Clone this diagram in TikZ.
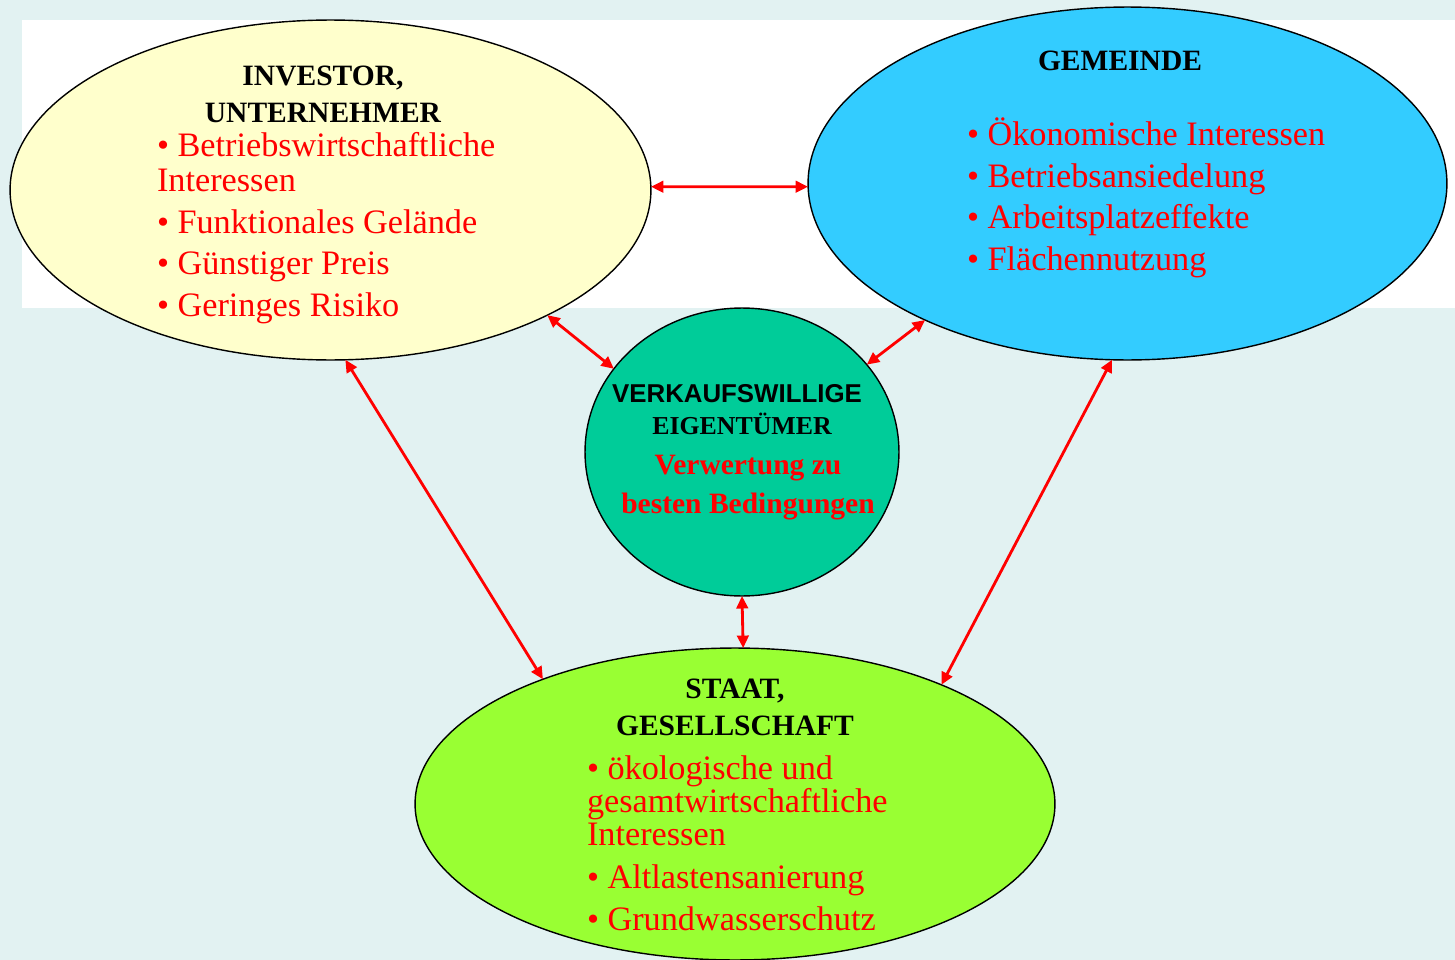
\documentclass[tikz,border=0pt]{standalone}
\usepackage{fontspec}
\setmainfont{Liberation Serif}
\setsansfont{Liberation Sans}
\usetikzlibrary{shapes.geometric,arrows.meta}
\definecolor{bgcyan}{HTML}{E2F2F2}
\definecolor{invyellow}{HTML}{FFFFCC}
\definecolor{gemblue}{HTML}{33CCFF}
\definecolor{eiggreen}{HTML}{00CC99}
\definecolor{sttlime}{HTML}{99FF33}
\tikzset{
	every node/.style={outer sep=0pt,inner sep=0pt},
	party/.style={ellipse,draw,line width=0.8pt},
	heading/.style={font=\fontsize{16.8}{20.5}\selectfont\bfseries,align=center,anchor=base},
	items/.style={text=red,font=\fontsize{19.5}{23.6}\selectfont,align=left,anchor=base west},
	link/.style={draw=red,line width=1.6pt,{Triangle[length=0.25cm,width=0.23cm]}-{Triangle[length=0.25cm,width=0.23cm]}}
	}
\begin{document}
\begin{tikzpicture}[x=0.02cm,y=-0.02cm]
	\useasboundingbox (0,0) rectangle (1455,960);
	\fill[bgcyan] (0,0) rectangle (1455,960);
	\fill[white] (22,20) rectangle (1455,308);
	% the four parties
	\node[party,fill=invyellow,minimum width=12.82cm,minimum height=6.8cm] (inv) at (330.5,190) {};
	\node[party,fill=gemblue,minimum width=12.78cm,minimum height=7.06cm] (gem) at (1127.5,183.5) {};
	\node[party,fill=eiggreen,minimum width=6.28cm,minimum height=5.76cm] (eig) at (742,452) {};
	\node[party,fill=sttlime,minimum width=12.8cm,minimum height=6.24cm] (stt) at (735,804) {};
	% texts (base = last line)
	\node[heading] (inv-head) at (323,122) {INVESTOR,\\UNTERNEHMER};
	\node[items] (inv-items) at (157,316) {• Betriebswirtschaftliche\\[-0.13cm]Interessen\\• Funktionales Gelände\\• Günstiger Preis\\• Geringes Risiko};
	\node[heading] (gem-head) at (1120,71) {GEMEINDE};
	\node[items] (gem-items) at (967,270) {• Ökonomische Interessen\\• Betriebsansiedelung\\• Arbeitsplatzeffekte\\• Flächennutzung};
	\node[font=\fontsize{14.7}{17}\selectfont\sffamily\bfseries,anchor=base] (eig-head) at (737,402) {VERKAUFSWILLIGE};
	\node[font=\fontsize{14.7}{17}\selectfont\bfseries,anchor=base] (eig-sub) at (742,434) {EIGENTÜMER};
	\node[heading,text=red] (eig-items) at (748,513) {Verwertung zu\\[0.04cm]besten Bedingungen};
	\node[heading] (stt-head) at (735,735) {STAAT,\\GESELLSCHAFT};
	\node[items] (stt-items) at (587,930) {• ökologische und\\[-0.17cm]gesamtwirtschaftliche\\[-0.17cm]Interessen\\[0.03cm]• Altlastensanierung\\• Grundwasserschutz};
	% relations
	\draw[link] ([yshift=0.066cm]inv.east) -- ([yshift=-0.064cm]gem.west);
	\draw[link] (inv.-30.6) -- (eig.147.3);
	\draw[link] (gem.214.2) -- (eig.35.1);
	\draw[link] (inv.-85.5) -- (stt.147.5);
	\draw[link] (gem.265.3) -- (stt.30.8);
	\draw[link] (eig.south) -- (stt.87.4);
\end{tikzpicture}
\end{document}
